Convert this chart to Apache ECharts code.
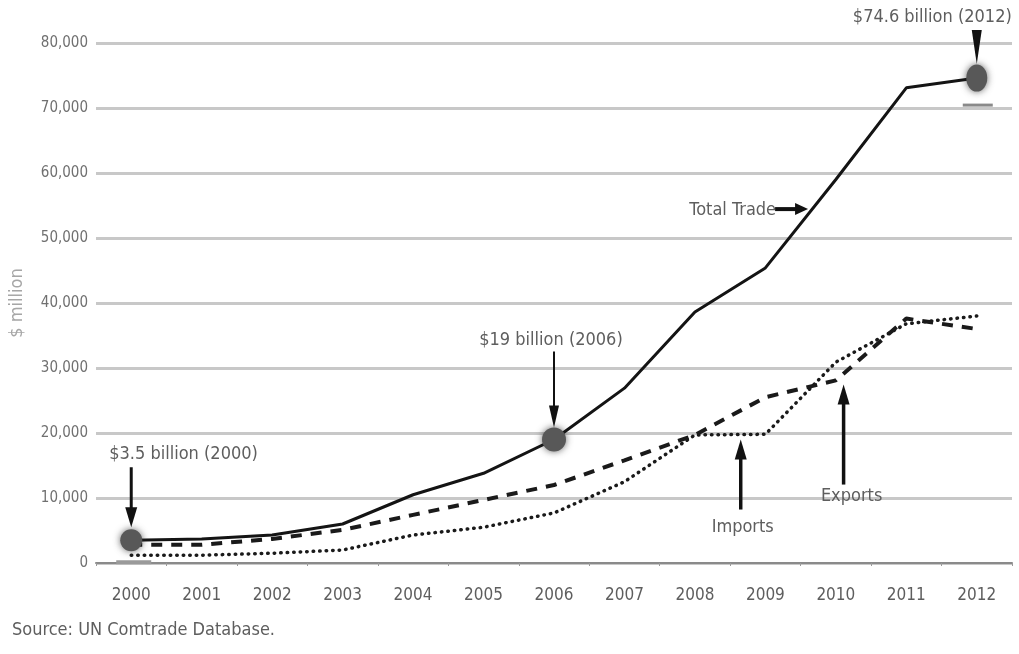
<!DOCTYPE html>
<html>
<head>
<meta charset="utf-8">
<script src="https://cdn.jsdelivr.net/npm/echarts@6/dist/echarts.min.js"></script>
<style>
  html, body { margin: 0; padding: 0; background: #fff; }
  #chart { width: 1019px; height: 654px; }
</style>
</head>
<body>
<div id="chart"></div>
<script>
// Trade values, $ million
const years = ['2000', '2001', '2002', '2003', '2004', '2005', '2006', '2007', '2008', '2009', '2010', '2011', '2012'];
const totalTrade = [3500, 3700, 4300, 6000, 10500, 13800, 19000, 26900, 38600, 45400, 59000, 73100, 74600];
const exportsVals = [2800, 2800, 3700, 5100, 7400, 9700, 12000, 15800, 19700, 25500, 28100, 37600, 36000];
const importsVals = [1200, 1200, 1500, 2000, 4300, 5500, 7700, 12500, 19700, 19800, 30900, 36800, 38000];
// Highlighted totals and their captions
const calloutYears = ['2000', '2006', '2012'];
const calloutText = ['$3.5 billion (2000)', '$19 billion (2006)', '$74.6 billion (2012)'];
const seriesNames = ['Total Trade', 'Exports', 'Imports'];
const sourceNote = 'Source: UN Comtrade Database.';

const FONT = '"DejaVu Sans Condensed", "DejaVu Sans", sans-serif';
const TXT = '#5e5e5e';

const chart = echarts.init(document.getElementById('chart'), null, { renderer: 'canvas' });

const totalData = totalTrade.map((v, i) => {
  const k = calloutYears.indexOf(years[i]);
  if (k < 0) return { value: v, symbol: 'none' };
  return {
    value: v,
    symbol: 'circle',
    symbolSize: k === 2 ? [21, 27] : (k === 1 ? 24 : 22),
    itemStyle: { color: '#585858', shadowBlur: 7, shadowColor: 'rgba(40,40,40,0.7)' }
  };
});

chart.setOption({
  animation: false,
  textStyle: { fontFamily: FONT },
  grid: { left: 95, right: 7, top: 43, bottom: 91 },
  xAxis: {
    type: 'category',
    data: years,
    boundaryGap: true,
    axisLine: { show: true, lineStyle: { color: '#8a8a8a', width: 2 } },
    axisTick: { show: true, length: 3, lineStyle: { color: '#9a9a9a', width: 1 } },
    axisLabel: { color: TXT, fontSize: 17, margin: 24, fontFamily: FONT }
  },
  yAxis: {
    type: 'value',
    min: 0,
    max: 80000,
    interval: 10000,
    name: '$ million',
    nameLocation: 'middle',
    nameGap: 70,
    nameRotate: 90,
    nameTextStyle: { color: '#a6a6a6', fontSize: 18, fontFamily: FONT },
    axisLine: { show: false },
    axisTick: { show: false },
    axisLabel: {
      color: '#707070', fontSize: 15, margin: 8, fontFamily: FONT,
      formatter: v => v.toLocaleString('en-US')
    },
    splitLine: { lineStyle: { color: '#c8c8c8', width: 3 } }
  },
  series: [
    {
      name: seriesNames[0], type: 'line', data: totalData, z: 5,
      lineStyle: { color: '#141414', width: 3 },
      itemStyle: { color: '#585858' }
    },
    {
      name: seriesNames[1], type: 'line', data: exportsVals, symbol: 'none', z: 4,
      lineStyle: { color: '#1a1a1a', width: 4, type: [11, 9] }
    },
    {
      name: seriesNames[2], type: 'line', data: importsVals, symbol: 'none', z: 3,
      lineStyle: { color: '#1a1a1a', width: 3.5, type: [0.5, 6], cap: 'round' }
    }
  ]
});

// Callout arrows and captions, placed from data coordinates
function pt(series, idx, val) {
  return chart.convertToPixel({ seriesIndex: series }, [idx, val]);
}
function lerpPt(series, arr, idx, f) {
  const a = pt(series, idx, arr[idx]);
  const b = pt(series, idx + 1, arr[idx + 1]);
  return [a[0] + (b[0] - a[0]) * f, a[1] + (b[1] - a[1]) * f];
}
function arrowDown(x, y0, y1, w, head, hw) {
  return [
    { type: 'line', shape: { x1: x, y1: y0, x2: x, y2: y1 - head + 2 }, style: { stroke: '#111', lineWidth: w }, z: 20 },
    { type: 'polygon', shape: { points: [[x - hw, y1 - head], [x + hw, y1 - head], [x, y1]] }, style: { fill: '#111' }, z: 20 }
  ];
}
function arrowUp(x, y0, y1, w, head, hw) {
  return [
    { type: 'line', shape: { x1: x, y1: y0, x2: x, y2: y1 + head - 2 }, style: { stroke: '#111', lineWidth: w }, z: 20 },
    { type: 'polygon', shape: { points: [[x - hw, y1 + head], [x + hw, y1 + head], [x, y1]] }, style: { fill: '#111' }, z: 20 }
  ];
}
function label(text, x, y, align, size) {
  return {
    type: 'text', x: x, y: y, z: 21,
    style: { text: text, fill: TXT, font: (size || 18) + 'px ' + FONT, textAlign: align || 'center', textVerticalAlign: 'middle' }
  };
}

const g = [];
const c0 = pt(0, years.indexOf(calloutYears[0]), totalTrade[years.indexOf(calloutYears[0])]);
const c1 = pt(0, years.indexOf(calloutYears[1]), totalTrade[years.indexOf(calloutYears[1])]);
const c2 = pt(0, years.indexOf(calloutYears[2]), totalTrade[years.indexOf(calloutYears[2])]);

// 2000
g.push({ type: 'line', shape: { x1: c0[0] - 15, y1: c0[1] + 22, x2: c0[0] + 20, y2: c0[1] + 22 }, style: { stroke: '#9a9a9a', lineWidth: 4 }, z: 4 });
g.push(label(calloutText[0], c0[0] - 22, c0[1] - 86, 'left'));
g.push(...arrowDown(c0[0], c0[1] - 73, c0[1] - 13, 3, 20, 6));
// 2006
g.push(label(calloutText[1], c1[0] - 3, c1[1] - 99, 'center'));
g.push(...arrowDown(c1[0], c1[1] - 88, c1[1] - 12, 2, 22, 5));
// 2012
g.push({ type: 'line', shape: { x1: c2[0] - 14, y1: c2[1] + 27, x2: c2[0] + 16, y2: c2[1] + 27 }, style: { stroke: '#8a8a8a', lineWidth: 3 }, z: 4 });
g.push(label(calloutText[2], c2[0] + 35, c2[1] - 61, 'right'));
g.push({ type: 'polygon', shape: { points: [[c2[0] - 5, c2[1] - 48], [c2[0] + 5, c2[1] - 48], [c2[0], c2[1] - 14]] }, style: { fill: '#111' }, z: 20 });

// Total Trade pointer
const tt = lerpPt(0, totalTrade, 9, 0.62);
g.push(label(seriesNames[0], tt[0] - 33, tt[1] - 3, 'right'));
g.push({ type: 'line', shape: { x1: tt[0] - 34, y1: tt[1] - 4, x2: tt[0] - 12, y2: tt[1] - 4 }, style: { stroke: '#111', lineWidth: 4 }, z: 20 });
g.push({ type: 'polygon', shape: { points: [[tt[0] - 14, tt[1] - 10], [tt[0] - 14, tt[1] + 2], [tt[0] - 1, tt[1] - 4]] }, style: { fill: '#111' }, z: 20 });

// Imports pointer
const ip = lerpPt(2, importsVals, 8, 0.65);
g.push(...arrowUp(ip[0], ip[1] + 75, ip[1] + 5, 3.5, 20, 6));
g.push(label(seriesNames[2], ip[0] + 2, ip[1] + 93, 'center'));

// Exports pointer
const ep = lerpPt(1, exportsVals, 10, 0.11);
g.push(...arrowUp(ep[0], ep[1] + 111, ep[1] + 11, 3.5, 20, 6));
g.push(label(seriesNames[1], ep[0] + 8, ep[1] + 123, 'center'));

// Source line
g.push({
  type: 'text', left: 12, top: 621, z: 21,
  style: { text: sourceNote, fill: TXT, font: '18px ' + FONT }
});

chart.setOption({ graphic: g });
</script>
</body>
</html>
